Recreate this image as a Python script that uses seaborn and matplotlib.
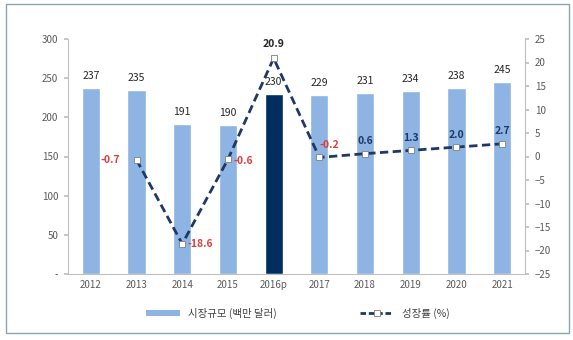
import matplotlib
matplotlib.use("Agg")
import matplotlib.pyplot as plt
import seaborn as sns
import numpy as np
import pandas as pd
from matplotlib.patches import Rectangle, Patch
from matplotlib.lines import Line2D

years = ["2012", "2013", "2014", "2015", "2016p", "2017", "2018", "2019", "2020", "2021"]
market = [237, 235, 191, 190, 230, 229, 231, 234, 238, 245]
growth = [None, -0.7, -18.6, -0.6, 20.9, -0.2, 0.6, 1.3, 2.0, 2.7]
left_ticks = [0, 50, 100, 150, 200, 250, 300]
left_labels = ["-", "50", "100", "150", "200", "250", "300"]
right_ticks = [-25, -20, -15, -10, -5, 0, 5, 10, 15, 20, 25]
bar_legend = "시장규모 (백만 달러)"
line_legend = "성장률 (%)"

sns.set_theme(style="white")
plt.rcParams['font.family'] = ['Noto Sans CJK KR', 'DejaVu Sans']
plt.rcParams['axes.unicode_minus'] = True

light = "#8DB4E2"
dark = "#002F5F"
navy = "#1F3864"
gray = "#7F7F7F"
colors = [dark if y == "2016p" else light for y in years]

df = pd.DataFrame({"year": years, "market": market})

fig = plt.figure(figsize=(5.73, 3.40), dpi=100)
ax = fig.add_axes([68/573, 1-274/340, (525-68)/573, (274-39)/340])
sns.barplot(data=df, x="year", y="market", hue="year", palette=colors,
            legend=False, width=0.4, ax=ax, saturation=1)
ax.set_xlim(-0.5, len(years) - 0.5)
ax.set_ylim(0, 300)
ax.set_yticks(left_ticks)
ax.set_yticklabels(left_labels)
ax.set_xlabel("")
ax.set_ylabel("")
for s in ["top", "right"]:
    ax.spines[s].set_visible(False)
for s in ["left", "bottom"]:
    ax.spines[s].set_color("#BFBFBF")
    ax.spines[s].set_linewidth(0.8)
ax.tick_params(axis="both", labelsize=7, colors="#595959", length=0, pad=4)
ax.set_xticks(np.arange(len(years)), years)
# boundary ticks on x axis
ax.set_xticks(np.arange(-0.5, len(years) + 0.5, 1), minor=True)
ax.tick_params(axis="x", which="minor", length=4, color="#BFBFBF", direction="out")
ax.tick_params(axis="y", which="major", length=3, color="#BFBFBF", direction="out")

for i, v in enumerate(market):
    ax.text(i, v + 9, f"{v}", ha="center", va="bottom", fontsize=7.5, color="#262626")

ax2 = ax.twinx()
gx = [i for i, g in enumerate(growth) if g is not None]
gy = [g for g in growth if g is not None]
sns.lineplot(x=gx, y=gy, ax=ax2, color=navy, linewidth=2, linestyle=(0, (3, 1.6)),
             marker="s", markersize=5, markerfacecolor="white",
             markeredgecolor="#7F7F7F", markeredgewidth=0.6)
ax2.set_ylim(-25, 25)
ax2.set_yticks(right_ticks)
ax2.tick_params(axis="y", labelsize=7, colors="#595959", length=3, pad=4)
ax2.tick_params(axis="y", color="#BFBFBF")
for s in ["top", "left", "bottom"]:
    ax2.spines[s].set_visible(False)
ax2.spines["right"].set_color("#BFBFBF")
ax2.spines["right"].set_linewidth(0.8)
ax2.set_xlim(-0.5, len(years) - 0.5)

offsets = {
    "2013": (-0.35, 0.0, "right", "center"),
    "2014": (0.12, 0.0, "left", "center"),
    "2015": (0.12, -0.4, "left", "center"),
    "2016p": (0.0, 2.0, "center", "bottom"),
    "2017": (0.0, 1.5, "left", "bottom"),
    "2018": (0.0, 1.6, "center", "bottom"),
    "2019": (0.0, 1.6, "center", "bottom"),
    "2020": (0.0, 1.6, "center", "bottom"),
    "2021": (0.0, 1.6, "center", "bottom"),
}
for i, g in zip(gx, gy):
    dx, dy, ha, va = offsets[years[i]]
    if years[i] == "2016p":
        c = "#262626"
    elif g < 0:
        c = "#E03C3C"
    else:
        c = navy
    ax2.text(i + dx, g + dy, f"{g:.1f}", ha=ha, va=va, fontsize=7.5,
             color=c, fontweight="bold")

handles = [Patch(facecolor=light, edgecolor="none"),
           Line2D([0], [0], color=navy, linewidth=2, linestyle=(0, (2, 1)),
                  marker="s", markersize=5, markerfacecolor="white",
                  markeredgecolor="#7F7F7F", markeredgewidth=0.6)]
fig.legend(handles, [bar_legend, line_legend], loc="center",
           bbox_to_anchor=(0.52, 1-313/340), ncol=2, frameon=False,
           fontsize=7.5, columnspacing=8, handlelength=3.2, handleheight=0.5,
           labelcolor="#404040")

fig.patches.append(Rectangle((6/573, 1-333/340), (569-6)/573, (333-4)/340,
                             transform=fig.transFigure, fill=False,
                             edgecolor="#8EA4B5", linewidth=1.0))

fig.savefig("out.png", dpi=100)
